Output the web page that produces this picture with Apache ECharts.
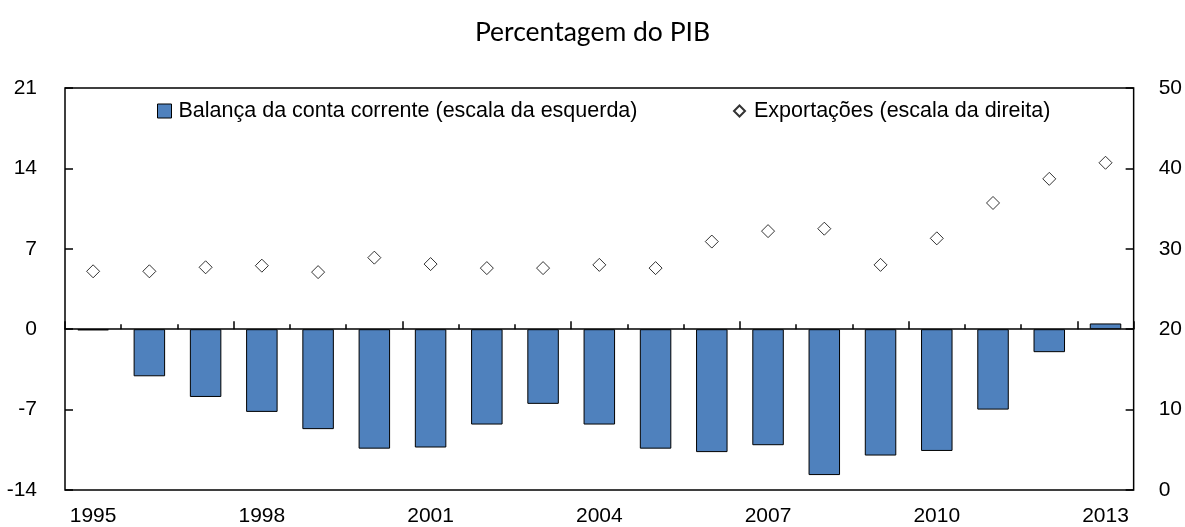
<!DOCTYPE html>
<html>
<head>
<meta charset="utf-8">
<script src="https://cdn.jsdelivr.net/npm/echarts@6/dist/echarts.min.js"></script>
<style>
html,body{margin:0;padding:0;background:#fff;}
#chart{width:1185px;height:527px;}
</style>
</head>
<body>
<div id="chart"></div>
<script>
const years = ['1995','1996','1997','1998','1999','2000','2001','2002','2003','2004','2005','2006','2007','2008','2009','2010','2011','2012','2013'];
const currentAccount = [-0.1,-4.1,-5.9,-7.2,-8.7,-10.4,-10.3,-8.3,-6.5,-8.3,-10.4,-10.7,-10.1,-12.7,-11.0,-10.6,-7.0,-2.0,0.5];
const exportsShare = [27.2,27.2,27.7,27.9,27.1,28.9,28.1,27.6,27.6,28.0,27.6,30.9,32.2,32.5,28.0,31.3,35.7,38.7,40.7];
const leftTicks = {min:-14, max:21, interval:7};
const rightTicks = {min:0, max:50, interval:10};
const titleText = 'Percentagem do PIB';
const barName = 'Balança da conta corrente (escala da esquerda)';
const dotName = 'Exportações (escala da direita)';

const FONT = '"Liberation Sans", Arial, sans-serif';
const FS = 21;
const chart = echarts.init(document.getElementById('chart'), null, {renderer:'canvas'});
chart.setOption({
  animation:false,
  backgroundColor:'#fff',
  title:{text:titleText, left:'center', top:14, textStyle:{fontFamily:'Lato, "Open Sans", sans-serif', fontSize:26.5, fontWeight:'normal', color:'#000'}},
  legend:[
    {data:[{name:barName, icon:'rect'}], left:157, top:100, padding:0, itemWidth:14, itemHeight:14, itemGap:5,
     itemStyle:{borderColor:'#000', borderWidth:1},
     textStyle:{fontFamily:FONT, fontSize:21.5, color:'#000', padding:[0,0,0,2]}},
    {data:[{name:dotName, icon:'diamond'}], left:733, top:100, padding:0, itemWidth:11, itemHeight:11, itemGap:5,
     textStyle:{fontFamily:FONT, fontSize:21.5, color:'#000', padding:[0,0,0,4]}}
  ],
  grid:{left:65, right:50, top:88, bottom:36, show:true, borderColor:'#000', borderWidth:1.5, backgroundColor:'transparent'},
  xAxis:[
    {type:'category', data:years, gridIndex:0, position:'bottom',
     axisLine:{show:false, onZero:false}, axisTick:{show:false},
     axisLabel:{interval:2, margin:16, fontFamily:FONT, fontSize:FS, color:'#000'}},
    {type:'category', data:years, gridIndex:0, position:'bottom',
     axisLine:{show:true, onZero:true, onZeroAxisIndex:0, lineStyle:{color:'#000', width:1.5}},
     axisTick:{show:true, inside:true, length:5, lineStyle:{color:'#000', width:1.5}},
     axisLabel:{show:false}},
    {type:'category', data:years, gridIndex:0, position:'bottom',
     axisLine:{show:false, onZero:true, onZeroAxisIndex:0},
     axisTick:{show:true, inside:true, length:8, interval:function(i){return i%3===0;}, lineStyle:{color:'#000', width:1.5}},
     axisLabel:{show:false}}
  ],
  yAxis:[
    {type:'value', min:leftTicks.min, max:leftTicks.max, interval:leftTicks.interval, position:'left',
     splitLine:{show:false}, axisLine:{show:false},
     axisTick:{show:true, inside:true, length:8, lineStyle:{color:'#000', width:1.5}},
     axisLabel:{margin:28, fontFamily:FONT, fontSize:FS, color:'#000'}},
    {type:'value', min:rightTicks.min, max:rightTicks.max, interval:rightTicks.interval, position:'right',
     splitLine:{show:false}, axisLine:{show:false},
     axisTick:{show:true, inside:true, length:8, lineStyle:{color:'#000', width:1.5}},
     axisLabel:{margin:25, fontFamily:FONT, fontSize:FS, color:'#000'}}
  ],
  series:[
    {name:barName, type:'bar', xAxisIndex:0, yAxisIndex:0, data:currentAccount, barWidth:'56%',
     itemStyle:{color:'#4F81BD', borderColor:'#000', borderWidth:1}},
    {name:dotName, type:'scatter', xAxisIndex:0, yAxisIndex:1, data:exportsShare, symbol:'diamond', symbolSize:13,
     itemStyle:{color:'#fff', borderColor:'#000', borderWidth:1}, z:5}
  ]
});
</script>
</body>
</html>
